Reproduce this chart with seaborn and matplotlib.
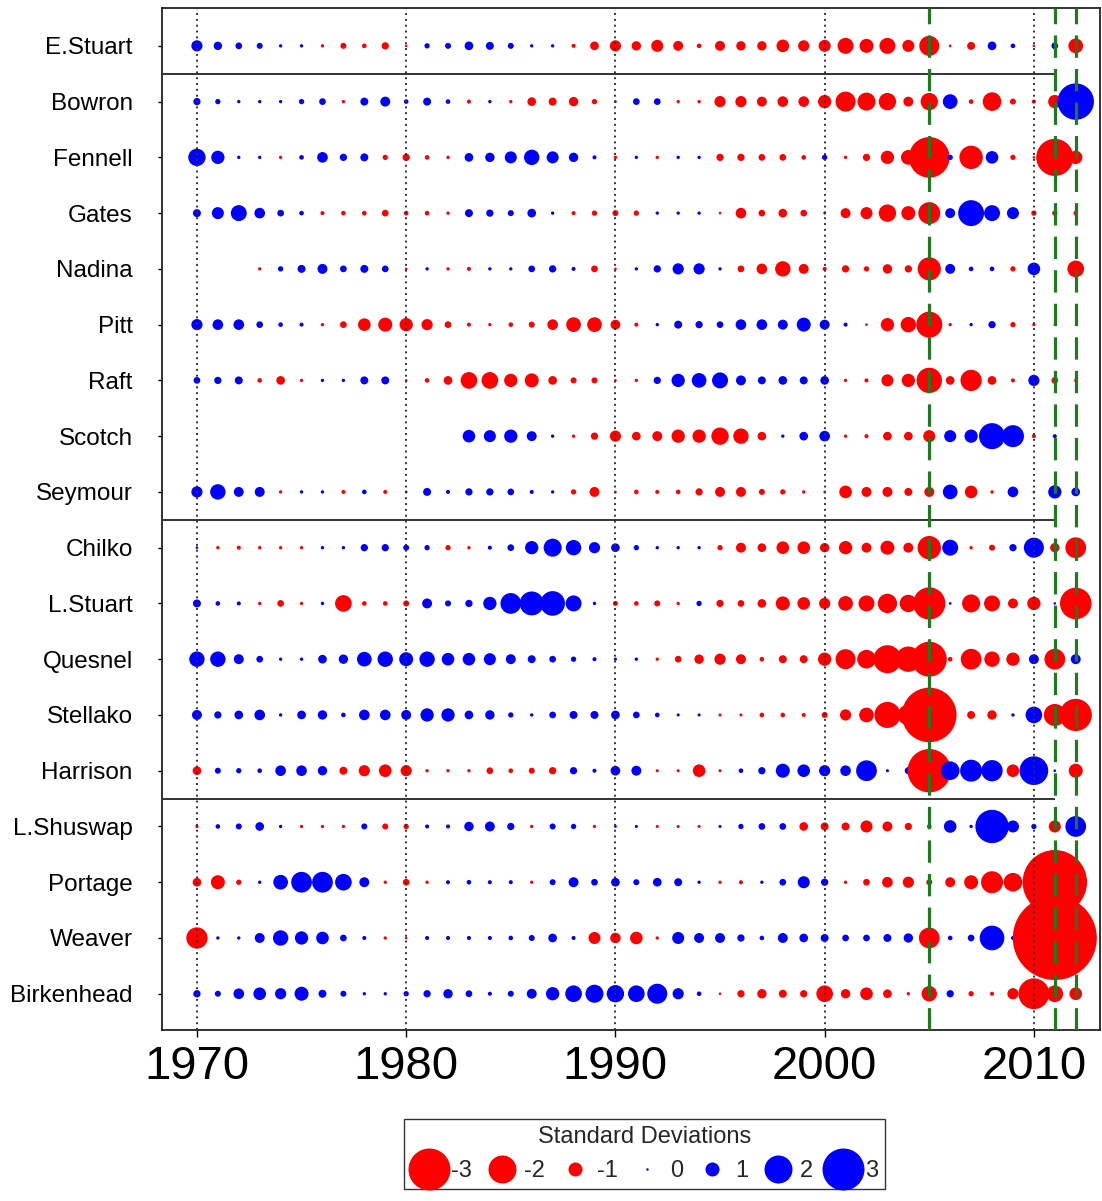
import numpy as np
import pandas as pd
import seaborn as sns
import matplotlib.pyplot as plt
from matplotlib.lines import Line2D

years = list(range(1970, 2013))

stocks = ["E.Stuart", "Bowron", "Fennell", "Gates", "Nadina", "Pitt", "Raft", "Scotch",
          "Seymour", "Chilko", "L.Stuart", "Quesnel", "Stellako", "Harrison", "L.Shuswap",
          "Portage", "Weaver", "Birkenhead"]

# standard deviations by year, 1970-2012 (None = no data)
e_stuart = [0.8, 0.6, 0.48, 0.43, 0.24, 0.24, -0.24, -0.43, -0.33, -0.52,
            -0.19, 0.38, 0.43, 0.62, 0.57, 0.43, 0.24, 0.24, -0.29, -0.62,
            -0.8, -0.67, -0.86, -0.71, -0.33, -0.71, -0.67, -0.67, -0.9, -0.8,
            -0.86, -1.14, -1.0, -1.14, -0.86, -1.43, -0.19, -0.57, 0.62, 0.33,
            -0.19, 0.48, -1.05]
bowron = [0.52, 0.38, 0.24, 0.24, 0.24, 0.38, 0.48, -0.24, 0.57, 0.71,
          0.33, 0.57, 0.33, -0.29, 0.24, -0.24, -0.62, -0.57, -0.67, -0.38,
          0.19, 0.48, 0.48, -0.24, -0.24, -0.8, -0.8, -0.71, -0.76, -0.76,
          -0.95, -1.43, -1.29, -1.24, -0.71, -1.24, 1.05, -0.33, -1.33, -0.43,
          -0.29, -0.95, 2.6]
fennell = [1.24, 0.95, 0.24, 0.24, -0.24, 0.33, 0.76, 0.52, 0.57, -0.38,
           -0.52, -0.33, -0.24, 0.62, 0.67, 0.86, 1.1, 0.86, 0.67, 0.29,
           -0.24, 0.24, -0.24, 0.24, 0.24, -0.52, -0.52, -0.48, -0.48, -0.33,
           0.38, -0.24, -0.52, -0.95, -1.05, -2.9, 0.38, -1.67, 0.9, -0.38,
           -0.19, -2.65, -0.95]
gates = [0.57, 0.86, 1.14, 0.76, 0.48, 0.33, -0.29, -0.33, -0.33, -0.48,
         -0.33, -0.33, -0.24, 0.57, 0.52, 0.43, 0.62, 0.24, -0.29, -0.38,
         -0.43, -0.38, 0.24, 0.24, 0.24, -0.19, -0.76, -0.48, -0.62, -0.48,
         0.19, -0.71, -0.86, -1.24, -1.0, -1.57, 0.71, 1.85, 1.14, 0.86,
         -0.38, -0.38, -0.33]
nadina = [None, None, None, -0.24, 0.38, 0.57, 0.71, 0.48, 0.57, 0.48,
          -0.19, 0.24, -0.24, -0.29, 0.24, 0.24, 0.48, 0.52, 0.29, -0.48,
          -0.19, 0.24, 0.52, 0.8, 0.8, 0.24, -0.48, -0.76, -1.1, -0.71,
          -0.29, -0.52, -0.38, -0.67, -0.52, -1.65, 0.71, 0.33, 0.33, -0.38,
          0.9, None, -1.19]
pitt = [0.8, 0.76, 0.76, 0.48, 0.33, 0.29, -0.24, -0.48, -0.9, -1.0,
        -0.95, -0.8, -0.48, -0.29, -0.24, -0.33, -0.43, -0.76, -1.05, -1.05,
        -0.7, -0.29, 0.24, 0.57, 0.52, 0.48, 0.76, 0.76, 0.71, 1.0,
        0.71, 0.29, -0.19, -0.95, -1.1, -1.86, -0.24, 0.24, 0.52, -0.38,
        -0.24, 0.12, None]
raft = [0.48, 0.52, 0.57, -0.33, -0.62, -0.24, 0.24, 0.24, 0.57, 0.57,
        -0.19, -0.33, -0.62, -1.19, -1.19, -0.95, -1.0, -0.62, -0.43, -0.43,
        -0.19, -0.24, 0.52, 0.95, 1.05, 1.14, 0.71, 0.57, 0.62, 0.57,
        0.62, -0.24, -0.29, -0.86, -0.95, -1.81, -0.62, -1.52, -0.62, -0.29,
        0.8, -0.48, -0.24]
scotch = [None] * 13 + [0.9, 0.86, 0.95, 0.71, 0.24, -0.24, -0.52,
                        -0.8, -0.62, -0.71, -0.95, -0.95, -1.24, -1.1, -0.62, 0.24, 0.62,
                        0.76, -0.24, -0.29, -0.62, -0.62, -0.86, 0.86, 0.95, 1.86, 1.57,
                        -0.29, 0.29, None]
seymour = [0.8, 1.1, 0.71, 0.71, -0.24, 0.24, 0.24, -0.29, 0.33, -0.29,
           0.19, 0.57, 0.29, 0.52, 0.52, 0.48, 0.29, 0.24, -0.38, -0.71,
           -0.19, -0.33, -0.29, -0.33, -0.52, -0.71, -0.71, -0.43, -0.38, -0.24,
           -0.19, -0.9, -0.71, -0.71, -0.57, -0.71, 1.05, -0.9, -0.24, 0.76,
           -0.19, 0.95, 0.62]
chilko = [0.19, -0.24, -0.29, -0.24, -0.24, -0.24, 0.24, 0.24, 0.52, 0.52,
          0.43, 0.38, -0.38, -0.24, 0.29, 0.48, 0.95, 1.29, 1.1, 0.8,
          0.62, 0.38, 0.24, 0.24, 0.24, -0.38, -0.71, -0.62, -0.9, -0.9,
          -0.67, -0.95, -0.71, -1.0, -0.71, -1.67, 1.14, -0.24, -0.43, 0.52,
          1.43, -0.67, -1.48]
l_stuart = [0.57, 0.33, 0.29, -0.24, -0.48, -0.24, 0.24, -1.19, -0.33, -0.33,
            -0.43, 0.71, 0.43, 0.52, 0.95, 1.48, 1.71, 1.76, 1.14, 0.24,
            -0.36, -0.33, -0.43, -0.24, 0.38, -0.52, -0.48, -0.62, -1.0, -0.9,
            -0.8, -1.05, -1.14, -1.38, -1.24, -2.3, 0.19, -1.29, -1.14, -0.71,
            -0.95, 0.12, -2.25]
quesnel = [1.1, 1.1, 0.71, 0.48, 0.24, 0.24, 0.62, 0.67, 1.05, 1.1,
           1.0, 1.1, 0.9, 0.9, 0.86, 0.71, 0.57, 0.48, 0.38, 0.29,
           0.22, 0.24, -0.24, -0.48, -0.67, -0.8, -0.71, -0.33, -0.57, -0.57,
           -0.95, -1.43, -1.33, -2.0, -1.81, -2.5, -0.33, -1.48, -1.1, -0.95,
           0.71, -1.48, 0.71]
stellako = [0.71, 0.52, 0.62, 0.76, 0.24, 0.62, 0.67, 0.33, 0.76, 0.76,
            0.71, 0.95, 0.95, 0.62, 0.67, 0.38, 0.24, 0.48, 0.57, 0.57,
            0.62, 0.48, 0.33, 0.22, 0.22, -0.22, -0.22, -0.33, -0.33, -0.29,
            -0.43, -0.8, -1.05, -1.86, -1.5, -3.9, -0.5, -0.57, -0.67, 0.24,
            1.19, -1.57, -2.3]
harrison = [-0.62, 0.43, 0.38, 0.33, 0.76, 0.76, 0.67, -0.57, -0.8, -0.9,
            -0.8, -0.24, -0.24, -0.24, -0.48, -0.33, -0.43, -0.52, 0.52, 0.29,
            0.69, 0.71, -0.22, -0.22, -0.9, -0.22, 0.33, 0.52, 1.0, 0.9,
            0.8, 0.76, 1.48, 0.22, 0.52, -3.1, 1.33, 1.57, 1.52, -0.9,
            2.05, 0.19, -1.0]
l_shuswap = [-0.24, 0.33, 0.43, 0.62, 0.24, -0.24, -0.24, -0.24, 0.43, -0.43,
             -0.38, 0.29, 0.29, 0.67, 0.71, 0.52, -0.24, 0.43, 0.38, -0.24,
             0.2, 0.22, -0.22, -0.22, -0.22, 0.22, 0.38, 0.48, 0.48, -0.62,
             -0.57, -0.57, -0.86, -0.71, -0.52, -0.33, 0.9, 0.24, 2.38, 0.86,
             0.38, -0.86, 1.48]
portage = [-0.62, -1.0, -0.38, 0.24, 1.05, 1.48, 1.48, 1.19, 0.71, -0.24,
           -0.48, -0.24, 0.29, 0.33, 0.29, 0.29, -0.24, 0.43, 0.71, 0.48,
           0.62, 0.43, 0.62, 0.57, 0.24, -0.24, -0.29, 0.24, 0.48, 0.86,
           0.52, -0.24, -0.48, -0.76, -0.8, -0.43, -0.71, -1.0, -1.57, -1.33,
           -1.2, -4.6, -1.0]
weaver = [-1.52, 0.24, 0.24, 0.71, 1.1, 0.95, 0.9, 0.48, 0.29, -0.24,
          -0.19, 0.29, 0.29, 0.29, 0.29, 0.33, 0.43, 0.62, 0.29, -0.86,
          -0.75, -0.9, -0.24, 0.86, 0.71, 0.71, 0.52, 0.33, 0.71, 0.62,
          0.57, 0.48, 0.48, 0.57, 0.67, -1.48, 0.33, 0.48, 1.76, 0.29,
          -1.0, -6.0, -1.0]
birkenhead = [0.52, 0.43, 0.76, 0.9, 0.8, 1.0, 0.57, 0.43, 0.24, 0.24,
              0.38, 0.52, 0.67, 0.48, 0.29, 0.43, 0.71, 0.95, 1.19, 1.29,
              1.24, 1.19, 1.43, 0.8, 0.33, -0.19, -0.52, -0.67, -0.57, -0.52,
              -1.19, -0.67, -0.9, -0.62, -0.24, -1.1, 0.52, -0.38, -0.29, -0.8,
              -2.2, -1.19, -0.9]

series = [e_stuart, bowron, fennell, gates, nadina, pitt, raft, scotch, seymour,
          chilko, l_stuart, quesnel, stellako, harrison, l_shuswap, portage,
          weaver, birkenhead]

legend_vals = [-3, -2, -1, 0, 1, 2, 3]
decades = [1970, 1980, 1990, 2000, 2010]
event_years = [2005, 2011, 2012]
group_breaks = [0.5, 8.5, 13.5]

rows = []
for i, (name, vals) in enumerate(zip(stocks, series)):
    assert len(vals) == len(years), name
    for yr, v in zip(years, vals):
        if v is None:
            continue
        rows.append((name, i, yr, v))
df = pd.DataFrame(rows, columns=["stock", "row", "year", "sd"])
df["sign"] = np.where(df["sd"] < 0, "neg", "pos")


def diam_pt(z):
    # circle diameter proportional to |sd| (px -> pt at 100 dpi)
    return np.maximum(14 * np.abs(z), 2.5) * 0.72


df["area"] = diam_pt(df["sd"]) ** 2
amax = df["area"].max()

sns.set_style("ticks")
plt.rcParams["font.family"] = ["Liberation Sans", "DejaVu Sans"]

fig = plt.figure(figsize=(11.02, 12.01), dpi=100)
ax = fig.add_axes([0.147, 0.1424, 0.851, 0.851])

colors = {"neg": "#ff0000", "pos": "#0000ff"}
sns.scatterplot(data=df, x="year", y="row", hue="sign", palette=colors,
                size="area", sizes=(0, amax), size_norm=(0, amax),
                linewidth=0, legend=False, ax=ax, zorder=2)

xmin, xmax = 1968.33, 2013.15
for d in decades:
    ax.axvline(d, color="#333333", lw=1.4, ls=(0, (1, 2)), zorder=3)
for e in event_years:
    ax.axvline(e, color="#1f7a1f", lw=2.3, ls=(0, (7, 3.5)), zorder=4)
ax.hlines(group_breaks, xmin, 2011, color="#333333", lw=1.4, zorder=3)

ax.set_xlim(xmin, xmax)
ax.set_ylim(17.65, -0.68)
ax.set_xticks(decades)
ax.set_xticklabels([str(d) for d in decades], fontsize=34)
ax.set_yticks(range(len(stocks)))
ax.set_yticklabels(stocks, fontsize=17.5)
ax.tick_params(axis="y", length=3, width=1, pad=18, colors="black")
ax.tick_params(axis="x", length=5, width=1, pad=6, colors="black")
ax.set_xlabel("")
ax.set_ylabel("")
for sp in ax.spines.values():
    sp.set_color("#222222")
    sp.set_linewidth(1.3)

handles = []
for v in legend_vals:
    c = colors["neg"] if v < 0 else colors["pos"]
    handles.append(Line2D([], [], marker="o", ls="", color=c,
                          markersize=float(diam_pt(v)), markeredgewidth=0))
leg = fig.legend(handles, [str(v) for v in legend_vals], loc="center",
                 bbox_to_anchor=(0.585, 0.039), ncol=7, frameon=True,
                 fancybox=False, edgecolor="black", title="Standard Deviations",
                 fontsize=17, title_fontsize=17, handletextpad=0.2,
                 columnspacing=0.5, handlelength=1.5, borderpad=0.3)
leg.get_frame().set_linewidth(1.0)

fig.savefig("out.png", dpi=100)
